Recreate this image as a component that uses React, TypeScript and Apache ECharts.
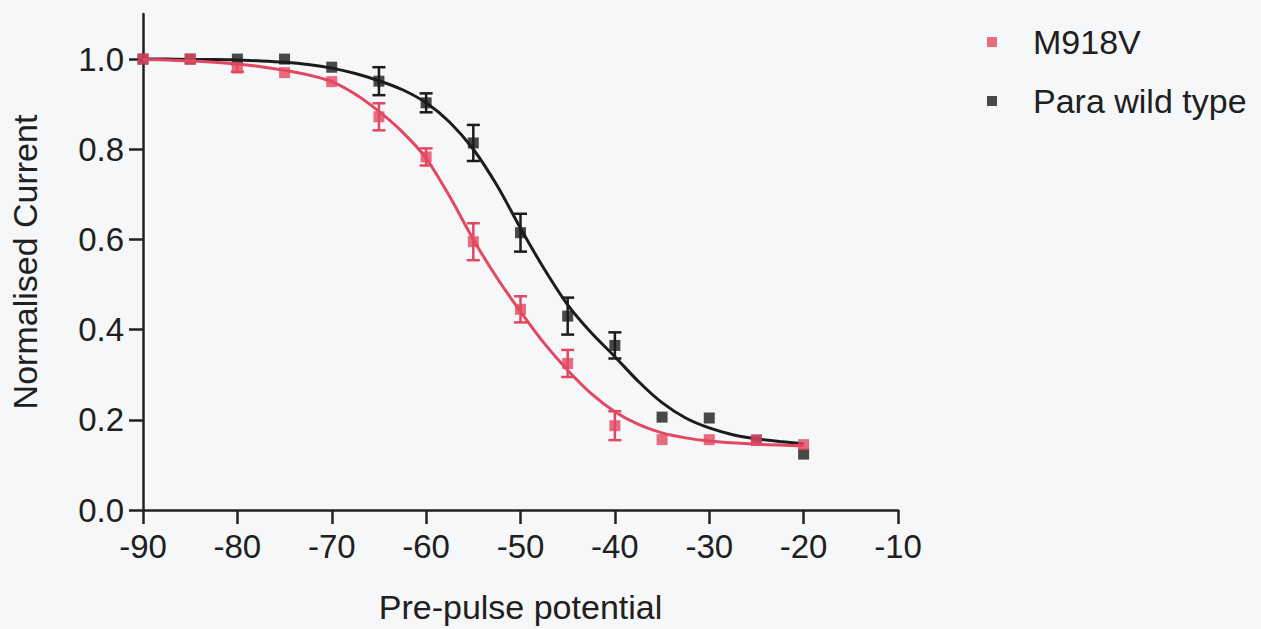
import React, { useEffect, useRef } from "react";
import * as echarts from "echarts";

// Pre-pulse potentials (mV) of measured points
const voltages = [-90, -85, -80, -75, -70, -65, -60, -55, -50, -45, -40, -35, -30, -25, -20];

// M918V normalised current (mean, SEM)
const m918vMean = [1.0, 1.0, 0.98, 0.97, 0.95, 0.872, 0.783, 0.595, 0.445, 0.325, 0.187, 0.156, 0.156, 0.155, 0.145];
const m918vErr = [0, 0, 0.008, 0, 0, 0.03, 0.019, 0.041, 0.029, 0.03, 0.032, 0, 0, 0, 0];

// Para wild type normalised current (mean, SEM)
const wtMean = [1.0, 1.0, 1.0, 1.0, 0.982, 0.951, 0.903, 0.814, 0.615, 0.43, 0.365, 0.206, 0.204, 0.155, 0.124];
const wtErr = [0, 0, 0, 0, 0, 0.031, 0.021, 0.04, 0.042, 0.041, 0.029, 0, 0, 0, 0];

// Fitted curves
const fitVoltages = [-90, -87.5, -85, -82.5, -80, -77.5, -75, -72.5, -70, -67.5, -65, -62.5, -60, -57.5, -55, -52.5, -50, -47.5, -45, -42.5, -40, -37.5, -35, -32.5, -30, -27.5, -25, -22.5, -20];
const m918vFit = [0.999, 0.998, 0.996, 0.993, 0.989, 0.983, 0.975, 0.965, 0.95, 0.922, 0.884, 0.838, 0.78, 0.695, 0.6, 0.515, 0.44, 0.37, 0.31, 0.258, 0.218, 0.19, 0.171, 0.16, 0.153, 0.149, 0.146, 0.144, 0.142];
const wtFit = [1.0, 1.0, 0.999, 0.999, 0.998, 0.996, 0.993, 0.988, 0.98, 0.968, 0.952, 0.932, 0.903, 0.86, 0.8, 0.72, 0.625, 0.535, 0.455, 0.393, 0.34, 0.285, 0.238, 0.204, 0.182, 0.167, 0.158, 0.152, 0.147];

// Axis ticks
const xTicks = [-90, -80, -70, -60, -50, -40, -30, -20, -10];
const yTicks = [0, 0.2, 0.4, 0.6, 0.8, 1.0];

const RED = "#e34860";
const BLACK = "#1c1c1c";
const TEXT = "#202020";
const FONT = "'Liberation Sans', Arial, sans-serif";

function errorSeries(name: string, means: number[], errs: number[], color: string, z: number) {
  const data = voltages
    .map((v, i) => [v, means[i], errs[i]])
    .filter((d) => d[2] > 0);
  return {
    type: "custom",
    name,
    data,
    z,
    silent: true,
    renderItem: (params: any, api: any) => {
      const x = api.value(0);
      const y = api.value(1);
      const e = api.value(2);
      const top = api.coord([x, y + e]);
      const bot = api.coord([x, y - e]);
      const w = 6.5;
      const style = { stroke: color, lineWidth: 2.5 };
      return {
        type: "group",
        children: [
          { type: "line", shape: { x1: top[0], y1: top[1], x2: bot[0], y2: bot[1] }, style },
          { type: "line", shape: { x1: top[0] - w, y1: top[1], x2: top[0] + w, y2: top[1] }, style },
          { type: "line", shape: { x1: bot[0] - w, y1: bot[1], x2: bot[0] + w, y2: bot[1] }, style },
        ],
      };
    },
  };
}

export default function App() {
  const ref = useRef<HTMLDivElement>(null);

  useEffect(() => {
    if (!ref.current) return;
    const chart = echarts.init(ref.current, null, { renderer: "svg" });
    const option: any = {
      animation: false,
      backgroundColor: "#f5f7f9",
      textStyle: { fontFamily: FONT },
      grid: { left: 141, right: 363, top: 14, bottom: 118, containLabel: false },
      legend: {
        orient: "vertical",
        left: 982,
        top: 20,
        itemWidth: 10,
        itemHeight: 10,
        itemGap: 25,
        icon: "rect",
        data: ["M918V", "Para wild type"],
        textStyle: { fontSize: 34, color: TEXT, fontFamily: FONT, padding: [0, 0, 0, 31] },
      },
      xAxis: {
        type: "value",
        min: -90,
        max: -10,
        interval: 10,
        name: "Pre-pulse potential",
        nameLocation: "middle",
        nameGap: 80,
        nameTextStyle: { fontSize: 34, color: TEXT, fontFamily: FONT, verticalAlign: "top" },
        axisLine: { show: true, onZero: false, lineStyle: { color: "#222", width: 2.5 } },
        axisTick: { show: true, length: 14, lineStyle: { color: "#222", width: 2.5 }, customValues: xTicks },
        axisLabel: { fontSize: 33, color: TEXT, margin: 20, fontFamily: FONT, customValues: xTicks },
        splitLine: { show: false },
      },
      yAxis: {
        type: "value",
        min: 0,
        max: 1.1,
        name: "Normalised Current",
        nameLocation: "middle",
        nameGap: 101,
        nameTextStyle: { fontSize: 34, color: TEXT, fontFamily: FONT },
        axisLine: { show: true, onZero: false, lineStyle: { color: "#222", width: 2.5 } },
        axisTick: { show: true, length: 14, lineStyle: { color: "#222", width: 2.5 }, customValues: yTicks },
        axisLabel: {
          fontSize: 33,
          color: TEXT,
          margin: 19,
          fontFamily: FONT,
          customValues: yTicks,
          formatter: (v: number) => v.toFixed(1),
        },
        splitLine: { show: false },
      },
      series: [
        {
          type: "line",
          name: "Para wild type fit",
          data: fitVoltages.map((v, i) => [v, wtFit[i]]),
          smooth: 0.3,
          showSymbol: false,
          symbol: "none",
          lineStyle: { color: BLACK, width: 3 },
          z: 2,
          silent: true,
        },
        errorSeries("Para wild type err", wtMean, wtErr, BLACK, 3),
        {
          type: "scatter",
          name: "Para wild type",
          data: voltages.map((v, i) => [v, wtMean[i]]),
          symbol: "rect",
          symbolSize: 11,
          itemStyle: { color: BLACK },
          z: 4,
        },
        {
          type: "line",
          name: "M918V fit",
          data: fitVoltages.map((v, i) => [v, m918vFit[i]]),
          smooth: 0.3,
          showSymbol: false,
          symbol: "none",
          lineStyle: { color: RED, width: 3 },
          z: 5,
          silent: true,
        },
        errorSeries("M918V err", m918vMean, m918vErr, RED, 5),
        {
          type: "scatter",
          name: "M918V",
          data: voltages.map((v, i) => [v, m918vMean[i]]),
          symbol: "rect",
          symbolSize: 11,
          itemStyle: { color: RED },
          z: 6,
        },
      ],
    };
    chart.setOption(option);
    return () => chart.dispose();
  }, []);

  return (
    <div
      ref={ref}
      style={{ position: "fixed", left: 0, top: 0, width: 1261, height: 629 }}
    />
  );
}
